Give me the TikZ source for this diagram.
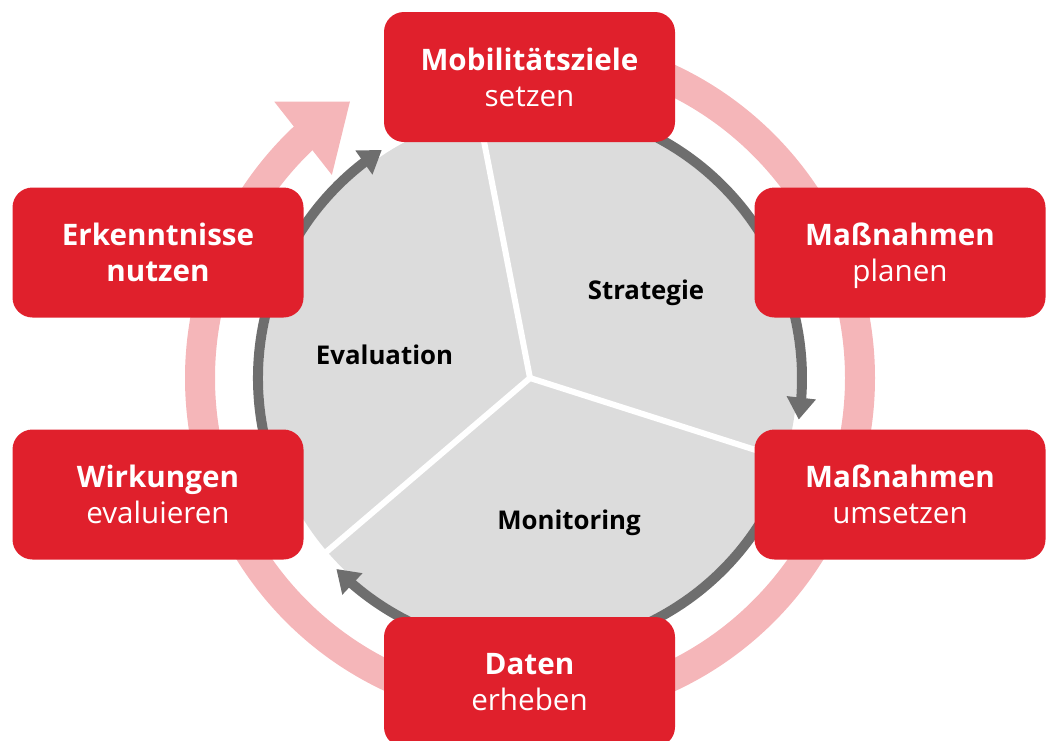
\documentclass[tikz,border=0pt]{standalone}
\usepackage{fontspec}
\setmainfont{Open Sans}
\usetikzlibrary{arrows.meta,bending}
\definecolor{boxred}{RGB}{224,32,44}
\definecolor{ringpink}{RGB}{245,182,185}
\definecolor{arcgray}{RGB}{110,110,110}
\definecolor{discgray}{RGB}{220,220,220}
\tikzset{
  stepbox/.style={draw=none, fill=boxred, rounded corners=20pt, minimum width=291pt, minimum height=130pt,
    inner sep=0pt, align=center, text=white, font=\fontsize{29.6}{36}\selectfont, text depth=0pt},
  ring/.style={draw=ringpink, line width=30pt, -{Triangle[length=60pt,width=89pt]}},
  cyclearc/.style={draw=arcgray, line width=10pt, -{Triangle[length=22pt,width=28pt]}},
  sep/.style={draw=white, line width=6pt},
  phase/.style={font=\fontsize{25.8}{28}\selectfont\bfseries, text=black}
}
\begin{document}
\begin{tikzpicture}[x=1pt,y=1pt]
\useasboundingbox (0,0) rectangle (1050,-740);
\coordinate (C) at (530,-378);
% pink outer ring
\draw[ring] ([shift={(90:330)}]C) arc[start angle=90, end angle=-237, radius=330];
% gray disc
\fill[discgray] (C) circle[radius=267];
% dark cycle arcs
\draw[cyclearc] ([shift={(95:272)}]C) arc[start angle=95, end angle=-8.8, radius=272];
\draw[cyclearc] ([shift={(-15:272)}]C) arc[start angle=-15, end angle=-135.4, radius=272];
\draw[cyclearc] ([shift={(205:272)}]C) arc[start angle=205, end angle=123, radius=272];
% separators
\draw[sep] (C) -- ++(101:268);
\draw[sep] (C) -- ++(-17.7:268);
\draw[sep] (C) -- ++(220.5:268);
% phase labels
\node[phase] (strat) at (646,-292.5) {Strategie};
\node[phase] (eval) at (384.5,-355) {Evaluation};
\node[phase] (moni) at (569,-522.5) {Monitoring};
% step boxes
\node[stepbox] (ziele) at (529.5,-77) {\textbf{Mobilitätsziele}\\setzen};
\node[stepbox] (planen) at (900,-252.5) {\textbf{Maßnahmen}\\planen};
\node[stepbox] (umsetzen) at (900,-494.5) {\textbf{Maßnahmen}\\umsetzen};
\node[stepbox] (daten) at (529.5,-682) {\textbf{Daten}\\erheben};
\node[stepbox] (wirk) at (158,-494.5) {\textbf{Wirkungen}\\evaluieren};
\node[stepbox] (erk) at (158,-252.5) {\textbf{Erkenntnisse}\\\textbf{nutzen}};
\end{tikzpicture}
\end{document}
